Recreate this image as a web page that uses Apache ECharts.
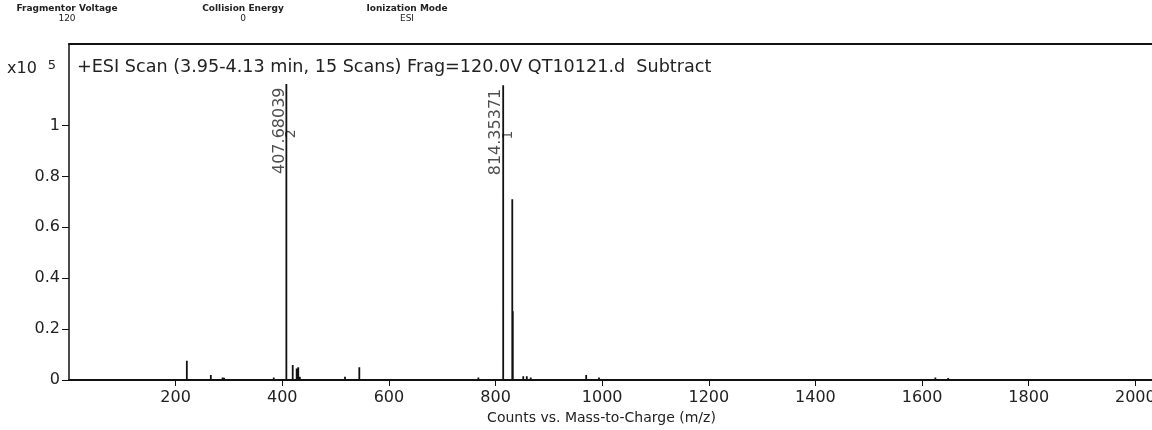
<!DOCTYPE html>
<html>
<head>
<meta charset="UTF-8">
<title>ESI Scan</title>
<script src="https://cdn.jsdelivr.net/npm/echarts@6/dist/echarts.min.js"></script>
<style>
	html, body { margin: 0; padding: 0; background: #fff; }
	#chart { width: 1152px; height: 430px; }
</style>
</head>
<body>
<div id="chart"></div>
<script>
// acquisition header
var headerNames = ['Fragmentor Voltage', 'Collision Energy', 'Ionization Mode'];
var headerValues = ['120', '0', 'ESI'];

// spectrum (x10^5 counts)
var scanRange = [50, 2000];
var peakMz = [221, 266, 288, 291, 384, 407.68039, 419.6, 427, 430, 433, 517.7, 544.5, 767.8,
	814.35371, 831.4, 832.4, 852, 858.6, 866, 970, 994, 1625, 1649];
var peakIntensity = [0.076, 0.02, 0.01, 0.008, 0.01, 1.163, 0.059, 0.045, 0.05, 0.012, 0.013, 0.05, 0.01,
	1.158, 0.71, 0.27, 0.015, 0.015, 0.01, 0.02, 0.01, 0.01, 0.008];

// labelled peaks
var labelMz = [407.68039, 814.35371];
var labelText = ['407.68039', '814.35371'];
var labelCharge = ['2', '1'];

var xTickValues = [200, 400, 600, 800, 1000, 1200, 1400, 1600, 1800, 2000];
var yTickValues = [0, 0.2, 0.4, 0.6, 0.8, 1];

var titleText = '+ESI Scan (3.95-4.13 min, 15 Scans) Frag=120.0V QT10121.d  Subtract';

var FONT = '"DejaVu Sans", sans-serif';
var INK = '#111';
var TEXT = '#222';

// stick spectrum: baseline with vertical lines for each peak
var spectrum = [[scanRange[0], 0]];
for (var i = 0; i < peakMz.length; i++) {
	spectrum.push([peakMz[i], 0], [peakMz[i], peakIntensity[i]], [peakMz[i], 0]);
}
spectrum.push([scanRange[1], 0]);

var labelPoints = labelMz.map(function(mz, i) {
	return [mz, peakIntensity[peakMz.indexOf(mz)], i];
});

var headerX = [67, 243, 407];
var graphics = [];
headerNames.forEach(function(name, i) {
	graphics.push({
		type: 'text', x: headerX[i], y: 4,
		style: { text: name, textAlign: 'center', fill: TEXT, font: 'bold 9px "DejaVu Sans", sans-serif' }
	});
	graphics.push({
		type: 'text', x: headerX[i], y: 14,
		style: { text: headerValues[i], textAlign: 'center', fill: TEXT, font: '9px "DejaVu Sans", sans-serif' }
	});
});

var chart = echarts.init(document.getElementById('chart'));
chart.setOption({
	animation: false,
	backgroundColor: '#fff',
	title: [{
		text: titleText,
		left: 72, top: 53,
		textStyle: { fontFamily: FONT, fontSize: 17.6, fontWeight: 'normal', color: TEXT }
	}, {
		text: '{a|x10}{b|5}',
		left: 2, top: 54,
		textStyle: {
			fontWeight: 'normal',
			rich: {
				a: { fontFamily: FONT, fontSize: 16, color: TEXT, fontWeight: 'normal' },
				b: { fontFamily: FONT, fontSize: 13, color: TEXT, fontWeight: 'normal', verticalAlign: 'top', padding: [0, 0, 6, 11] }
			}
		}
	}],
	graphic: graphics,
	grid: {
		left: 69, right: -10, top: 44, bottom: 50,
		outerBoundsMode: 'none',
		containLabel: false,
		show: false
	},
	xAxis: [{
		type: 'value',
		min: 0, max: 2050,
		name: 'Counts vs. Mass-to-Charge (m/z)',
		nameLocation: 'middle',
		nameGap: 31,
		nameTextStyle: { fontFamily: FONT, fontSize: 14, color: TEXT, padding: [0, 28, 0, 0] },
		axisLine: { lineStyle: { color: INK, width: 2 } },
		axisTick: { customValues: xTickValues, length: 6, lineStyle: { color: INK } },
		axisLabel: {
			customValues: xTickValues, margin: 10, fontFamily: FONT, fontSize: 16, color: TEXT,
			formatter: function(v) { return String(v); }
		},
		splitLine: { show: false }
	}, {
		// top frame line
		type: 'value',
		position: 'top',
		min: 0, max: 2050,
		axisLine: { show: true, lineStyle: { color: INK, width: 2 } },
		axisTick: { show: false },
		axisLabel: { show: false },
		splitLine: { show: false }
	}],
	yAxis: {
		type: 'value',
		min: 0, max: 1.32,
		axisLine: { show: true, lineStyle: { color: INK, width: 1.5 } },
		axisTick: { show: true, customValues: yTickValues, length: 7, lineStyle: { color: INK } },
		axisLabel: {
			customValues: yTickValues, margin: 9, fontFamily: FONT, fontSize: 16, color: TEXT,
			formatter: function(v) { return String(+v.toFixed(1)); }
		},
		splitLine: { show: false }
	},
	series: [{
		type: 'line',
		data: spectrum,
		symbol: 'none',
		lineStyle: { color: INK, width: 1.8 },
		silent: true
	}, {
		type: 'scatter',
		data: labelPoints,
		symbolSize: 1,
		itemStyle: { color: 'transparent' },
		silent: true,
		label: {
			show: true,
			position: [0, 4],
			rotate: 90,
			align: 'right',
			verticalAlign: 'middle',
			formatter: function(p) {
				var k = p.value[2];
				return '{v|' + labelText[k] + '}\n{z|' + labelCharge[k] + '}';
			},
			rich: {
				v: { fontFamily: FONT, fontSize: 16, color: TEXT, lineHeight: 11 },
				z: { fontFamily: FONT, fontSize: 14, color: TEXT, lineHeight: 13, align: 'center', padding: [0, 6, 0, 0] }
			}
		}
	}]
});
</script>
</body>
</html>
